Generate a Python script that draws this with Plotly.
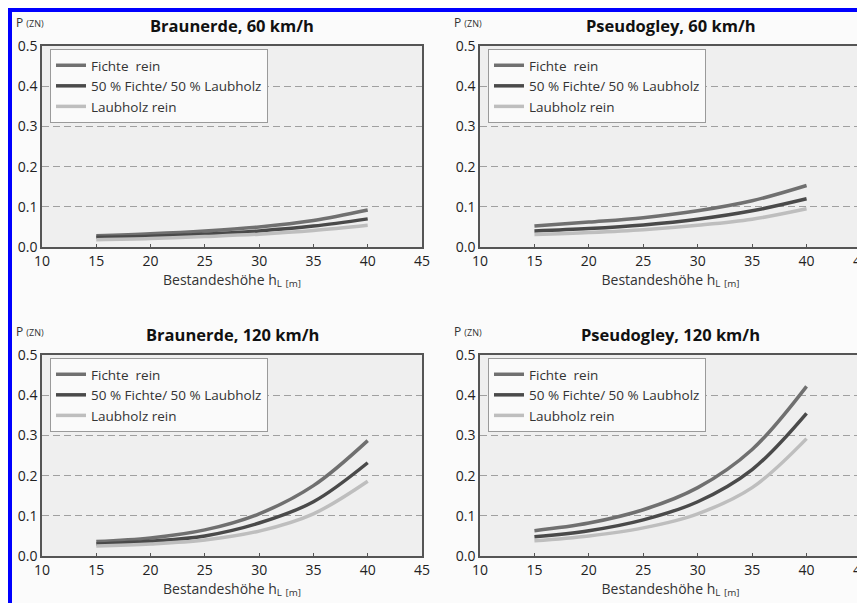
import plotly.graph_objects as go

# Bestandeshöhe (m)
hoehe = [15, 20, 25, 30, 35, 40]

# Braunerde, 60 km/h
br60_fichte = [0.028, 0.033, 0.040, 0.050, 0.066, 0.092]
br60_misch = [0.024, 0.027, 0.032, 0.040, 0.052, 0.070]
br60_laub = [0.018, 0.021, 0.026, 0.032, 0.041, 0.054]

# Pseudogley, 60 km/h
ps60_fichte = [0.052, 0.062, 0.073, 0.090, 0.115, 0.153]
ps60_misch = [0.040, 0.046, 0.055, 0.069, 0.090, 0.120]
ps60_laub = [0.031, 0.036, 0.043, 0.054, 0.069, 0.095]

# Braunerde, 120 km/h
br120_fichte = [0.036, 0.045, 0.065, 0.105, 0.175, 0.287]
br120_misch = [0.030, 0.037, 0.050, 0.082, 0.135, 0.232]
br120_laub = [0.025, 0.030, 0.040, 0.062, 0.105, 0.186]

# Pseudogley, 120 km/h
ps120_fichte = [0.063, 0.082, 0.115, 0.170, 0.265, 0.422]
ps120_misch = [0.048, 0.063, 0.090, 0.135, 0.215, 0.355]
ps120_laub = [0.038, 0.050, 0.070, 0.105, 0.170, 0.292]

series_names = ["Fichte  rein", "50 % Fichte/ 50 % Laubholz", "Laubholz rein"]
panel_titles = ["Braunerde, 60 km/h", "Pseudogley, 60 km/h",
                "Braunerde, 120 km/h", "Pseudogley, 120 km/h"]

# page body has an 8px margin, so the figure is a bit smaller than the window
OFF = 8
W, H = 865 - OFF, 603 - OFF
FONT = "Open Sans"
COLORS = ["#707070", "#4a4a4a", "#bebebe"]


def px(x):
    return (x - OFF) / W


def py(y):
    return 1 - (y - OFF) / H


panels = [
    [br60_fichte, br60_misch, br60_laub],
    [ps60_fichte, ps60_misch, ps60_laub],
    [br120_fichte, br120_misch, br120_laub],
    [ps120_fichte, ps120_misch, ps120_laub],
]

# plot area boxes in window pixels: (left, right, top, bottom)
boxes = [(42, 422, 46, 247), (480, 861, 46, 247),
         (42, 422, 355, 556), (480, 861, 355, 556)]

fig = go.Figure()
layout = dict()
annotations = []

for i, (data, box) in enumerate(zip(panels, boxes)):
    n = "" if i == 0 else str(i + 1)
    l, r, t, b = box
    leg = "legend" + n
    for j, ys in enumerate(data):
        fig.add_trace(go.Scatter(
            x=hoehe, y=ys, mode="lines", line_shape="spline",
            name=series_names[j],
            line=dict(color=COLORS[j], width=3.5),
            xaxis="x" + n, yaxis="y" + n, legend=leg,
        ))
    layout["xaxis" + n] = dict(
        domain=[px(l), px(r)], anchor="y" + n, range=[10, 45], dtick=5,
        showgrid=False, showline=True, linecolor="#555555", linewidth=1.5,
        mirror=True, ticks="inside", ticklen=3, tickcolor="#555555",
        tickfont=dict(size=14, color="#222222"), automargin=False,
        ticklabeloverflow="allow",
        title=dict(text="Bestandeshöhe h<sub>L</sub> <sub>[m]</sub>",
                   font=dict(size=14, color="#333333"), standoff=3),
        zeroline=False,
    )
    layout["yaxis" + n] = dict(
        domain=[py(b), py(t)], anchor="x" + n, range=[0, 0.5],
        dtick=0.1, tickformat=".1f", showline=True, linecolor="#555555",
        linewidth=1.5, mirror=True, showgrid=True, gridcolor="#a0a0a0",
        griddash="7px,4px", gridwidth=1, zeroline=False, ticks="",
        tickfont=dict(size=14, color="#222222"), automargin=False,
    )
    layout[leg] = dict(
        x=px(l + 8), y=py(t + 3), xanchor="left", yanchor="top",
        bgcolor="#fafafa", bordercolor="#9a9a9a", borderwidth=1,
        font=dict(size=13.5, color="#333333", family=FONT),
        tracegroupgap=0, itemwidth=30,
    )
    annotations.append(dict(
        text="<b>" + panel_titles[i] + "</b>", x=px((l + r) / 2),
        y=py(t - 21), xref="paper", yref="paper", showarrow=False,
        xanchor="center", yanchor="middle",
        font=dict(size=16.5, color="#111111", family=FONT),
    ))
    annotations.append(dict(
        text="P <span style='font-size:9px'>(ZN)</span>", x=px(l - 28),
        y=py(t - 24), xref="paper", yref="paper", showarrow=False,
        xanchor="left", yanchor="middle",
        font=dict(size=12, color="#333333", family=FONT),
    ))

# blue frame of the original scan
shapes = [
    dict(type="rect", xref="paper", yref="paper", x0=0, x1=1.01,
         y0=py(12), y1=1.01, fillcolor="#0000ff", line_width=0),
    dict(type="rect", xref="paper", yref="paper", x0=-0.01, x1=px(12),
         y0=-0.01, y1=1.01, fillcolor="#0000ff", line_width=0),
]

fig.update_layout(
    **layout,
    annotations=annotations,
    shapes=shapes,
    width=W, height=H,
    margin=dict(l=0, r=0, t=0, b=0),
    paper_bgcolor="#fbfbfb",
    plot_bgcolor="#efefef",
    font=dict(family=FONT, color="#333333"),
    showlegend=True,
)

fig.write_html("out.html")
